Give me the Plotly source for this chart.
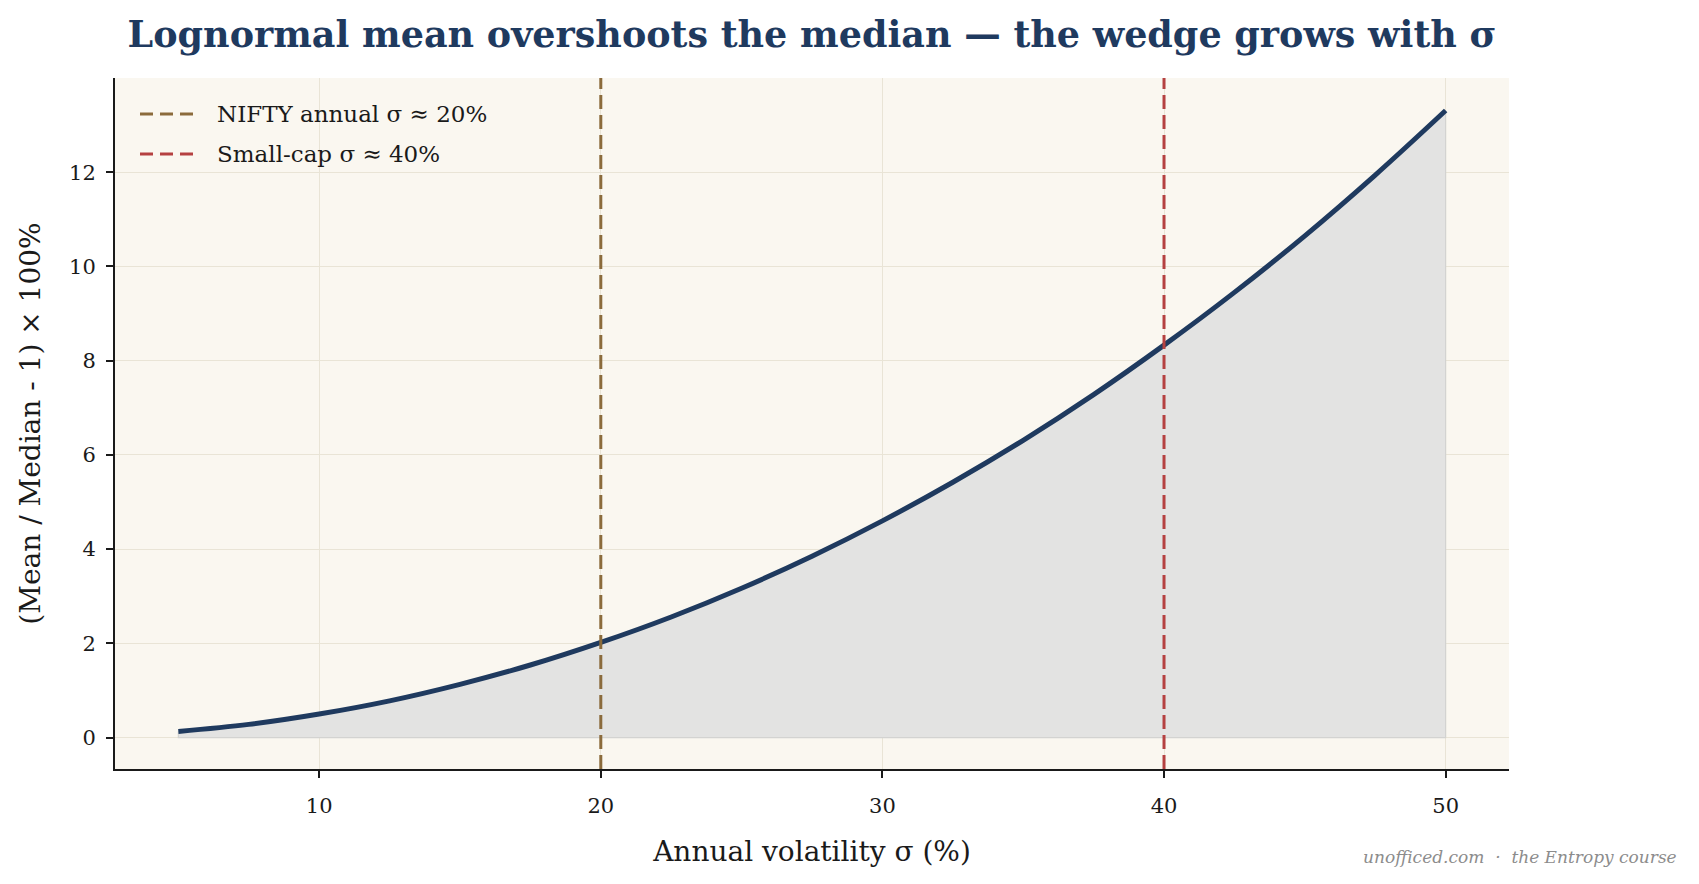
import plotly.graph_objects as go

# Data
sigma_pct = [5, 7.5, 10, 12.5, 15, 17.5, 20, 22.5, 25, 27.5, 30, 32.5, 35, 37.5, 40, 42.5, 45, 47.5, 50]
wedge_pct = [0.13, 0.28, 0.50, 0.78, 1.13, 1.54, 2.02, 2.56, 3.17, 3.85, 4.60, 5.42, 6.31, 7.28, 8.33, 9.45, 10.65, 11.94, 13.31]
ref_sigma = [20, 40]
ref_names = ["NIFTY annual σ ≈ 20%", "Small-cap σ ≈ 40%"]
ref_colors = ["#8b6b3c", "#b54141"]

x_ticks = [10, 20, 30, 40, 50]
y_ticks = [0, 2, 4, 6, 8, 10, 12]

FONT = "DejaVu Serif"
NAVY = "#1f3a5f"
BG = "#faf7f0"
GRID = "#e9e4d6"
W, H = 1699, 884
ML, MR, MT, MB = 115, 190, 78, 115
PW, PH = W - ML - MR, H - MT - MB

fig = go.Figure()

# shaded wedge (polygon down to zero)
poly_x = sigma_pct + [sigma_pct[-1], sigma_pct[0], sigma_pct[0]]
poly_y = wedge_pct + [0, 0, wedge_pct[0]]
fig.add_trace(go.Scatter(
    x=poly_x, y=poly_y, mode="lines", fill="toself",
    fillcolor="#e3e3e2", line=dict(color="#d3d3d1", width=1.2),
    showlegend=False, hoverinfo="skip"))

fig.add_trace(go.Scatter(
    x=sigma_pct, y=wedge_pct, mode="lines",
    line=dict(color=NAVY, width=5, shape="spline"),
    showlegend=False))

DASH = "14px,6px"
for i, (s, n, c) in enumerate(zip(ref_sigma, ref_names, ref_colors)):
    fig.add_shape(type="line", x0=s, x1=s, y0=0, y1=1, xref="x", yref="paper",
                  line=dict(color=c, width=3, dash=DASH), layer="above")
    # legend entry (key + label), placed in the plot's top-left corner
    ky = 1 - (114 + 40 * i - MT) / PH
    fig.add_shape(type="line", xref="paper", yref="paper",
                  x0=(140 - ML) / PW, x1=(193 - ML) / PW, y0=ky, y1=ky,
                  line=dict(color=c, width=3, dash="13px,7px"), layer="above")
    fig.add_annotation(text=n, xref="paper", yref="paper", x=(215 - ML) / PW, y=ky,
                       xanchor="left", yanchor="middle", showarrow=False,
                       font=dict(family=FONT, size=23, color="#1a1a1a"))

fig.add_annotation(text="unofficed.com  ·  the Entropy course", xref="paper", yref="paper",
                   x=1.122, y=-0.1275, xanchor="right", yanchor="middle", showarrow=False,
                   font=dict(family=FONT, size=17, color="#8c8c8c", style="italic"))

fig.update_layout(
    width=W, height=H,
    margin=dict(l=ML, r=MR, t=MT, b=MB),
    paper_bgcolor="white", plot_bgcolor=BG,
    font=dict(family=FONT, color="#1a1a1a"),
    showlegend=False,
    title=dict(text="<b>Lognormal mean overshoots the median — the wedge grows with σ</b>",
               x=(ML + W - MR) / 2 / W, xanchor="center", y=1 - 34 / H, yanchor="middle",
               font=dict(family=FONT, size=36.5, color=NAVY)),
    xaxis=dict(range=[2.75, 52.25], tickvals=x_ticks, ticktext=[str(v) for v in x_ticks],
               showgrid=True, gridcolor=GRID, gridwidth=1, zeroline=False,
               showline=True, linecolor="#1a1a1a", linewidth=2,
               ticks="outside", ticklen=7, tickwidth=1.5, tickcolor="#1a1a1a",
               ticklabelstandoff=10,
               tickfont=dict(family=FONT, size=21),
               title=dict(text="Annual volatility σ (%)", font=dict(family=FONT, size=28), standoff=24)),
    yaxis=dict(range=[-0.667, 14.0], tickvals=y_ticks, ticktext=[str(v) for v in y_ticks],
               showgrid=True, gridcolor=GRID, gridwidth=1, zeroline=False,
               showline=True, linecolor="#1a1a1a", linewidth=2,
               ticks="outside", ticklen=7, tickwidth=1.5, tickcolor="#1a1a1a",
               ticklabelstandoff=6,
               tickfont=dict(family=FONT, size=21),
               title=dict(text="(Mean / Median - 1) × 100%", font=dict(family=FONT, size=28), standoff=20)),
)

fig.write_html("out.html")
